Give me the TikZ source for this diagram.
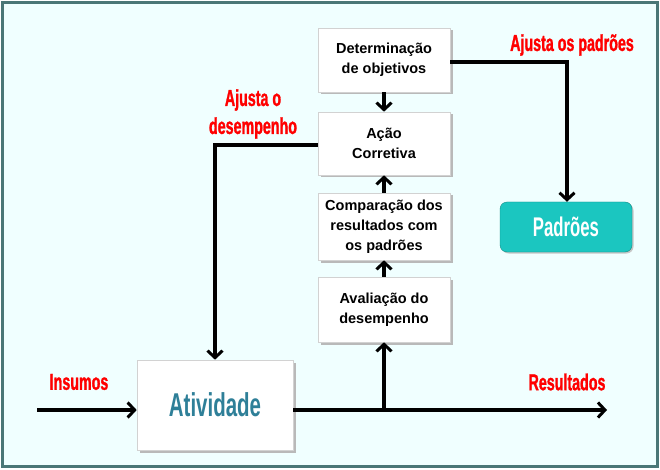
\documentclass[tikz,border=0pt]{standalone}
\usepackage{fontspec}
\setmainfont{Liberation Sans}
\newfontfamily\agency[FakeStretch=0.62,FakeBold=1.2]{Liberation Sans}
\newfontfamily\agencyb[FakeStretch=0.62]{Liberation Sans}
\usetikzlibrary{arrows.meta,shadows}
\definecolor{bgc}{HTML}{F0FFFF}
\definecolor{framec}{HTML}{4A7777}
\definecolor{tealf}{HTML}{1BC6C0}
\definecolor{ativc}{HTML}{2E7F98}
\tikzset{
  stepbox/.style={draw=gray!35, fill=white, line width=0.6pt, minimum width=132pt, align=center,
     font=\fontsize{14.5}{20}\selectfont\bfseries, text=black,
     drop shadow={shadow xshift=2.5pt, shadow yshift=-2.5pt, fill=gray!55, opacity=1}},
  redlbl/.style={text=red, font=\agency\fontsize{23}{28}\selectfont\bfseries, align=center},
  conn/.style={line width=3.5pt, -{Straight Barb[length=7pt,width=15pt,line width=3pt]}}
}
\begin{document}
\begin{tikzpicture}[x=1pt,y=-1pt]
\useasboundingbox (0,0) rectangle (660,470);
\fill[white] (0,0) rectangle (660,470);
\draw[framec, line width=3pt, fill=bgc] (2.5,2.5) rectangle (657.5,466.5);

\node[stepbox, minimum height=64pt] (det) at (384,60) {Determinação\\de objetivos};
\node[stepbox, minimum height=63pt] (acao) at (384,143.5) {Ação\\Corretiva};
\node[stepbox, minimum height=67pt] (comp) at (384,226.5) {Comparação dos\\resultados com\\os padrões};
\node[stepbox, minimum height=65pt] (aval) at (384,309.5) {Avaliação do\\desempenho};
\node[stepbox, minimum width=156pt, minimum height=90pt, text=ativc, font=\agencyb\fontsize{33}{33}\selectfont\bfseries] (ativ) at (215,405) {Atividade};
\node[draw=tealf!70!black, fill=tealf, rounded corners=7pt, minimum width=132pt, minimum height=50pt,
      text=white, font=\agencyb\fontsize{27}{27}\selectfont\bfseries,
      drop shadow={shadow xshift=1.5pt, shadow yshift=-1.5pt, fill=gray!45, opacity=1}] (padr) at (566,227) {Padrões};

\coordinate (in) at (37,410);
\coordinate (out) at (607,410);
\coordinate (br) at (384,410);

\draw[conn] (in) -- (in -| ativ.west);
\draw[conn] (ativ.east |- out) -- (out);
\draw[conn] (br) -- (aval.south);
\draw[conn] (aval.north) -- (comp.south);
\draw[conn] (comp.north) -- (acao.south);
\draw[conn] (det.south) -- (acao.north);
\draw[conn] (acao.west |- 0,145) -- (215,145) -- (ativ.north);
\draw[conn] (det.east |- 0,62) -- (567,62) -- (padr.north -| 567,0);

\node[redlbl] (l1) at (253,114) {Ajusta o\\desempenho};
\node[redlbl] (l2) at (572,45) {Ajusta os padrões};
\node[redlbl] (l3) at (79,382) {Insumos};
\node[redlbl] (l4) at (567,382) {Resultados};
\end{tikzpicture}
\end{document}
